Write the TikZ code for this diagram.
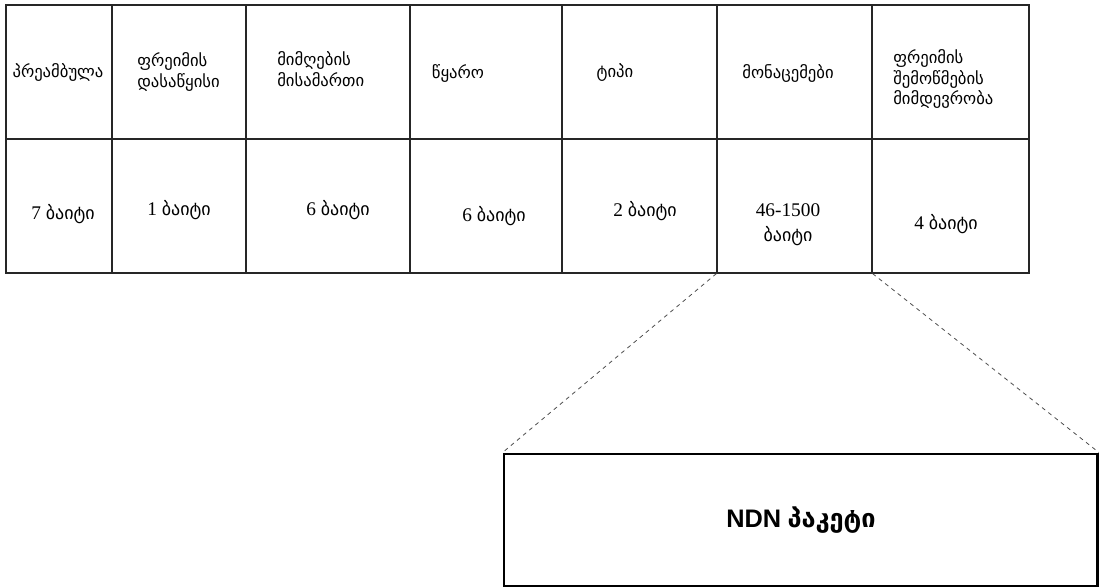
\documentclass[tikz,border=0pt]{standalone}
\usepackage{fontspec}
\setmainfont{Liberation Serif}
\newfontfamily\geo{DejaVu Sans}
\newfontfamily\sansf{Liberation Sans}
\usetikzlibrary{fit}
\newcommand\ka[1]{{\geo\fontsize{13.5pt}{18.75pt}\selectfont #1}}
\tikzset{
  cell/.style={draw=black!85, line width=0.9pt, inner sep=0pt, fit={#1}},
  head/.style={inner sep=0pt, align=left, font=\geo\fontsize{12.5pt}{15.3pt}\selectfont},
  size/.style={inner sep=0pt, align=center, font=\fontsize{14.5pt}{18.75pt}\selectfont},
  zoomline/.style={draw=black!70, dashed, line width=0.6pt},
  packet/.style={draw=black, line width=2.2pt, inner sep=0pt, fit={#1}}
}
\begin{document}
\begin{tikzpicture}[x=0.75pt,y=-0.75pt]
\useasboundingbox (0,0) rectangle (1099,587);
% header row cells
\node[cell={(6,5) (112,139)}] (h1) {};
\node[cell={(112,5) (246,139)}] (h2) {};
\node[cell={(246,5) (410,139)}] (h3) {};
\node[cell={(410,5) (562,139)}] (h4) {};
\node[cell={(562,5) (717,139)}] (h5) {};
\node[cell={(717,5) (872,139)}] (h6) {};
\node[cell={(872,5) (1029,139)}] (h7) {};
% size row cells
\node[cell={(6,139) (112,273)}] (s1) {};
\node[cell={(112,139) (246,273)}] (s2) {};
\node[cell={(246,139) (410,273)}] (s3) {};
\node[cell={(410,139) (562,273)}] (s4) {};
\node[cell={(562,139) (717,273)}] (s5) {};
\node[cell={(717,139) (872,273)}] (s6) {};
\node[cell={(872,139) (1029,273)}] (s7) {};
% header texts
\node[head] (t1) at (58,72) {პრეამბულა};
\node[head, anchor=west] (t2) at (137,72) {ფრეიმის\\დასაწყისი};
\node[head, anchor=west] (t3) at (277,69) {მიმღების\\მისამართი};
\node[head] (t4) at (458,73) {წყარო};
\node[head] (t5) at (615,73) {ტიპი};
\node[head] (t6) at (788,73) {მონაცემები};
\node[head, anchor=west] (t7) at (893,79) {ფრეიმის\\შემოწმების\\მიმდევრობა};
% size texts
\node[size] (z1) at (63,214) {7 \ka{ბაიტი}};
\node[size] (z2) at (179,210) {1 \ka{ბაიტი}};
\node[size] (z3) at (338,210) {6 \ka{ბაიტი}};
\node[size] (z4) at (494,216) {6 \ka{ბაიტი}};
\node[size] (z5) at (645,211) {2 \ka{ბაიტი}};
\node[size] (z6) at (788,225) {46-1500\\\ka{ბაიტი}};
\node[size] (z7) at (946,224) {4 \ka{ბაიტი}};
% packet box
\node[packet={(504,454) (1097.5,586)}] (ndn) {};
\node[font=\bfseries\fontsize{19pt}{22pt}\selectfont] (ndnt) at (801,520) {{\sansf NDN} {\geo პაკეტი}};
% zoom lines
\draw[zoomline] (s6.south west) -- (ndn.north west);
\draw[zoomline] (s6.south east) -- (ndn.north east);
\end{tikzpicture}
\end{document}
